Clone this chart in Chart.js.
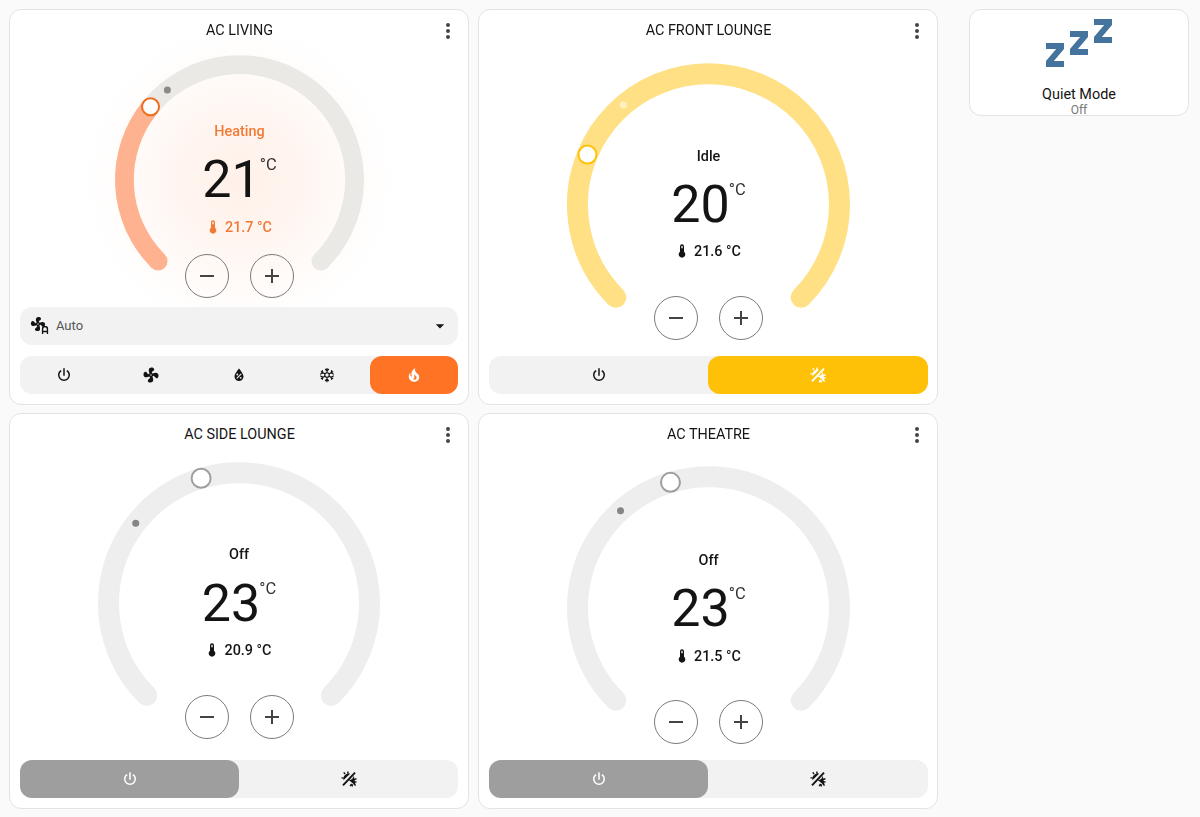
<!DOCTYPE html>
<html>
<head>
<meta charset="utf-8">
<title>Climate</title>
<script src="https://cdn.jsdelivr.net/npm/chart.js@4"></script>
<style>
  html, body { margin: 0; padding: 0; background: #fafafa; }
  body { position: relative; width: 1200px; height: 817px; overflow: hidden; font-family: Roboto, sans-serif; color: #141414; }
  .abs { position: absolute; }
  .card { position: absolute; box-sizing: border-box; background: #fff; border: 1px solid #e3e3e3; border-radius: 12px; }
  .label { position: absolute; transform: translate(-50%, -50%); white-space: nowrap; font-size: 14.4px; line-height: 18px; }
  .bar { position: absolute; background: #f2f2f2; border-radius: 12px; }
  .icon { position: absolute; transform: translate(-50%, -50%); display: block; }
  .round { position: absolute; box-sizing: border-box; width: 44px; height: 44px; border: 1px solid #7a7a7a; border-radius: 50%; transform: translate(-50%, -50%); }
  .temp { position: absolute; transform: translate(-50%, -50%); display: flex; align-items: flex-start; line-height: 57px; }
  .temp b { font-weight: 400; font-size: 52px; }
  .temp span { font-size: 16.5px; line-height: 16px; margin: 6px 0 0 -1px; color: #333; }
  canvas { position: absolute; }
</style>
</head>
<body>
<script>
// Gauge data
const cardTitles = ['AC LIVING', 'AC FRONT LOUNGE', 'AC SIDE LOUNGE', 'AC THEATRE'];
const stateLabels = ['Heating', 'Idle', 'Off', 'Off'];
const setTemps = [21, 20, 23, 23];
const currentTemps = [21.7, 21.6, 20.9, 21.5];
const tempMin = 16;
const tempMax = 32;
const tempUnit = '°C';

// Where things go on the page
const cardBoxes = [[9, 9, 460, 396], [478, 9, 460, 396], [9, 413, 460, 396], [478, 413, 460, 396]];
const gaugeBoxes = [
  { cx: 239.5, cy: 179.5, r: 124.5, w: 18.8, handle: 8.5 },
  { cx: 708.5, cy: 204, r: 141.5, w: 21, handle: 9 },
  { cx: 239, cy: 602.5, r: 141, w: 21, handle: 9.5 },
  { cx: 708.5, cy: 607.5, r: 141.5, w: 21, handle: 9.5 }
];
const textRows = [
  { title: 31, state: 132, temp: 179, now: 228, buttons: 276 },
  { title: 31, state: 156.5, temp: 203.5, now: 252, buttons: 318 },
  { title: 435, state: 555, temp: 603, now: 651, buttons: 717 },
  { title: 435, state: 561, temp: 608, now: 657, buttons: 722 }
];
const colors = [
  { on: '#ffb28f', off: '#ebe9e6', edge: '#ee6c1e', dot: '#8a8a88', text: '#f27a37' },
  { on: '#ffe084', off: '#ffe084', edge: '#ffc107', dot: '#fff0c4', text: '#141414' },
  { on: '#eeeeee', off: '#eeeeee', edge: '#9e9e9e', dot: '#858585', text: '#141414' },
  { on: '#eeeeee', off: '#eeeeee', edge: '#9e9e9e', dot: '#858585', text: '#141414' }
];

// Icons (24 x 24 paths)
const ICONS = {
  power: 'M16.56,5.44L15.11,6.89C16.84,7.94 18,9.83 18,12A6,6 0 0,1 12,18A6,6 0 0,1 6,12C6,9.83 7.16,7.94 8.88,6.88L7.44,5.44C5.36,6.88 4,9.28 4,12A8,8 0 0,0 12,20A8,8 0 0,0 20,12C20,9.28 18.64,6.88 16.56,5.44M13,3H11V13H13',
  fan: 'M12,11A1,1 0 0,0 11,12A1,1 0 0,0 12,13A1,1 0 0,0 13,12A1,1 0 0,0 12,11M12.5,2C17,2 17.11,5.57 14.75,6.75C13.76,7.24 13.32,8.29 13.13,9.22C13.61,9.42 14.03,9.73 14.35,10.13C18.05,8.13 22.03,8.92 22.03,12.5C22.03,17 18.46,17.1 17.28,14.73C16.78,13.74 15.72,13.3 14.79,13.11C14.59,13.59 14.28,14 13.88,14.34C15.87,18.03 15.08,22 11.5,22C7,22 6.91,18.42 9.27,17.24C10.25,16.75 10.69,15.71 10.89,14.79C10.4,14.59 9.97,14.27 9.65,13.87C5.96,15.85 2,15.07 2,11.5C2,7 5.56,6.89 6.74,9.26C7.24,10.25 8.29,10.68 9.22,10.87C9.41,10.39 9.73,9.97 10.14,9.65C8.15,5.96 8.94,2 12.5,2Z',
  drop: 'M12,3.25C12,3.25 6,10 6,14C6,17.32 8.69,20 12,20A6,6 0 0,0 18,14C18,10 12,3.25 12,3.25M14.47,9.97L15.53,11.03L9.53,17.03L8.47,15.97M9.75,10A1.25,1.25 0 0,1 11,11.25A1.25,1.25 0 0,1 9.75,12.5A1.25,1.25 0 0,1 8.5,11.25A1.25,1.25 0 0,1 9.75,10M14.25,14.5A1.25,1.25 0 0,1 15.5,15.75A1.25,1.25 0 0,1 14.25,17A1.25,1.25 0 0,1 13,15.75A1.25,1.25 0 0,1 14.25,14.5Z',
  fire: 'M17.66 11.2C17.43 10.9 17.15 10.64 16.89 10.38C16.22 9.78 15.46 9.35 14.82 8.72C13.33 7.26 13 4.85 13.95 3C13 3.23 12.17 3.75 11.46 4.32C8.87 6.4 7.85 10.07 9.07 13.22C9.11 13.32 9.15 13.42 9.15 13.55C9.15 13.77 9 13.97 8.8 14.05C8.57 14.15 8.33 14.09 8.14 13.93C8.08 13.88 8.04 13.83 8 13.76C6.87 12.33 6.69 10.28 7.45 8.64C5.78 10 4.87 12.3 5 14.47C5.06 14.97 5.12 15.47 5.29 15.97C5.43 16.57 5.7 17.17 6 17.7C7.08 19.43 8.95 20.67 10.96 20.92C13.1 21.19 15.39 20.8 17.03 19.32C18.86 17.66 19.5 15 18.56 12.72L18.43 12.46C18.22 12 17.66 11.2 17.66 11.2M14.5 17.5C14.22 17.74 13.76 18 13.4 18.1C12.28 18.5 11.16 17.94 10.5 17.28C11.69 17 12.4 16.12 12.61 15.23C12.78 14.43 12.46 13.77 12.33 13C12.21 12.26 12.23 11.63 12.5 10.94C12.69 11.32 12.89 11.7 13.13 12C13.9 13 15.11 13.44 15.37 14.8C15.41 14.94 15.43 15.08 15.43 15.23C15.46 16.05 15.1 16.95 14.5 17.5H14.5Z',
  thermo: 'M15 13V5A3 3 0 0 0 9 5V13A5 5 0 1 0 15 13M12 4A1 1 0 0 1 13 5V8H11V5A1 1 0 0 1 12 4Z',
  dots: 'M12,16A2,2 0 0,1 14,18A2,2 0 0,1 12,20A2,2 0 0,1 10,18A2,2 0 0,1 12,16M12,10A2,2 0 0,1 14,12A2,2 0 0,1 12,14A2,2 0 0,1 10,12A2,2 0 0,1 12,10M12,4A2,2 0 0,1 14,6A2,2 0 0,1 12,8A2,2 0 0,1 10,6A2,2 0 0,1 12,4Z',
  minus: 'M19,13H5V11H19V13Z',
  plus: 'M19,13H13V19H11V13H5V11H11V5H13V11H19V13Z',
  caret: 'M7,10L12,15L17,10H7Z',
  sleep: 'M23,12H17V10L20.39,6H17V4H23V6L19.62,10H23V12M15,16H9V14L12.39,10H9V8H15V10L11.62,14H15V16M7,20H1V18L4.39,14H1V12H7V14L3.62,18H7V20Z'
};
// these two are stroked by hand, close enough at this size
const SNOW = '<path d="M12 2.5V21.5M3.8 7.25L20.2 16.75M20.2 7.25L3.8 16.75M9.5 4L12 6.5L14.5 4M9.5 20L12 17.5L14.5 20M3 11L6.5 9L5.6 5.6M21 11L17.5 9L18.4 5.6M3 13L6.5 15L5.6 18.4M21 13L17.5 15L18.4 18.4" fill="none" stroke="COL" stroke-width="1.5"/><circle cx="12" cy="12" r="3" fill="#f2f2f2" stroke="COL" stroke-width="1.5"/>';
const SUNSNOW = '<path d="M20 3.5L4 20.5" fill="none" stroke="COL" stroke-width="2.6"/><path d="M11.5 5.5A6 6 0 0 0 5.5 11.5ZM10.5 2V4.8M5 3.2L6.8 5.4M2 10.5H4.6M14 14A5 5 0 0 0 18 11L19.5 18.5ZM13.5 21.5L15.5 18.5M18.5 13L22 11.5M22 16L19 15.5M16.5 22L16 18.8M20.8 20.8L18.5 18.5" fill="COL" stroke="COL" stroke-width="1.9"/>';

function el(cls, css, html) {
  const d = document.createElement('div');
  d.className = cls;
  d.style.cssText = css;
  if (html !== undefined) d.innerHTML = html;
  document.body.appendChild(d);
  return d;
}

function label(text, x, y, css) {
  const d = el('label', 'left:' + x + 'px;top:' + y + 'px;' + (css || ''));
  d.textContent = text;
  return d;
}

function icon(name, x, y, size, color) {
  const body = name === 'snow' ? SNOW.replace(/COL/g, color)
    : name === 'sunsnow' ? SUNSNOW.replace(/COL/g, color)
    : '<path d="' + ICONS[name] + '" fill="' + color + '"/>';
  el('abs', 'left:0;top:0;', '<svg class="icon" style="left:' + x + 'px;top:' + y + 'px" width="' + size + '" height="' + size + '" viewBox="0 0 24 24">' + body + '</svg>');
}

function modeBar(x, y, w, h, names, active, activeColor) {
  el('bar', 'left:' + x + 'px;top:' + y + 'px;width:' + w + 'px;height:' + h + 'px;');
  const cell = w / names.length;
  el('bar', 'background:' + activeColor + ';left:' + (x + cell * active) + 'px;top:' + y + 'px;width:' + cell + 'px;height:' + h + 'px;');
  names.forEach((n, i) => icon(n, x + cell * (i + 0.5), y + h / 2, 18, i === active ? '#fff' : '#141414'));
}

// Rounded ends, set point handle and current temperature dot, placed from the arcs the library computed
const gaugeMarks = {
  id: 'gaugeMarks',
  afterDatasetsDraw(chart, args, opts) {
    const ctx = chart.ctx;
    const [setArc, restArc] = chart.getDatasetMeta(0).data;
    const nowArc = chart.getDatasetMeta(1).data[0];
    const mid = (setArc.innerRadius + setArc.outerRadius) / 2;
    const band = setArc.outerRadius - setArc.innerRadius;
    const at = (a) => [setArc.x + mid * Math.cos(a), setArc.y + mid * Math.sin(a)];
    const disc = (p, r, fill, stroke) => {
      ctx.beginPath();
      ctx.arc(p[0], p[1], r, 0, Math.PI * 2);
      ctx.fillStyle = fill;
      ctx.fill();
      if (stroke) {
        ctx.lineWidth = 2;
        ctx.strokeStyle = stroke;
        ctx.stroke();
      }
    };
    ctx.save();
    disc(at(setArc.startAngle), band / 2, opts.on);
    disc(at(restArc.endAngle), band / 2, opts.off);
    disc(at(nowArc.endAngle), 3.5, opts.dot);
    disc(at(setArc.endAngle), opts.handle, '#fff', opts.edge);
    ctx.restore();
  }
};

function drawGauge(i) {
  const g = gaugeBoxes[i];
  const c = colors[i];
  const pad = 16;
  const canvas = document.createElement('canvas');
  const w = g.r * 2 + pad * 2;
  const h = Math.ceil(g.r * 2 * 0.8536 + pad * 2);
  canvas.width = w;
  canvas.height = h;
  canvas.style.cssText = 'left:' + (g.cx - g.r - pad) + 'px;top:' + (g.cy - g.r - pad) + 'px;width:' + w + 'px;height:' + h + 'px;';
  document.body.appendChild(canvas);
  new Chart(canvas.getContext('2d'), {
    type: 'doughnut',
    data: {
      labels: ['to set point', 'rest'],
      datasets: [
        { data: [setTemps[i] - tempMin, tempMax - setTemps[i]], backgroundColor: [c.on, c.off], borderWidth: 0 },
        { data: [currentTemps[i] - tempMin, tempMax - currentTemps[i]], backgroundColor: 'transparent', borderWidth: 0, weight: 0 }
      ]
    },
    options: {
      responsive: false,
      animation: false,
      rotation: -135,
      circumference: 270,
      cutout: ((g.r - g.w) / g.r * 100) + '%',
      layout: { padding: pad },
      events: [],
      plugins: {
        legend: { display: false },
        tooltip: { enabled: false },
        gaugeMarks: { on: c.on, off: c.off, dot: c.dot, edge: c.edge, handle: g.handle }
      }
    },
    plugins: [gaugeMarks]
  });
}

// Page
cardTitles.forEach((title, i) => {
  const b = cardBoxes[i];
  const g = gaugeBoxes[i];
  const t = textRows[i];
  const c = colors[i];
  el('card', 'left:' + b[0] + 'px;top:' + b[1] + 'px;width:' + b[2] + 'px;height:' + b[3] + 'px;');
  if (i === 0) {
    // soft glow behind the heating gauge
    el('abs', 'left:' + (g.cx - 160) + 'px;top:' + (g.cy - 160) + 'px;width:320px;height:320px;background:radial-gradient(circle closest-side, rgba(255,115,40,0.10) 0%, rgba(255,115,40,0.075) 35%, rgba(255,115,40,0.03) 65%, rgba(255,115,40,0.008) 85%, rgba(255,115,40,0) 100%);');
  }
  drawGauge(i);
  label(title, b[0] + b[2] / 2 + 0.5, t.title);
  icon('dots', b[0] + 438.5, t.title, 24, '#444');
  label(stateLabels[i], g.cx, t.state, 'font-weight:500;color:' + c.text + ';');
  el('temp', 'left:' + g.cx + 'px;top:' + t.temp + 'px;', '<b>' + setTemps[i] + '</b><span>' + tempUnit + '</span>');
  label(currentTemps[i].toFixed(1) + ' ' + tempUnit, g.cx + 9, t.now, 'font-weight:500;color:' + c.text + ';');
  icon('thermo', g.cx - 27, t.now - 1, 16, c.text);
  [-32.5, 32.5].forEach((dx, k) => {
    el('round', 'left:' + (b[0] + 230 + dx) + 'px;top:' + t.buttons + 'px;');
    icon(k ? 'plus' : 'minus', b[0] + 230 + dx, t.buttons, 24, '#444');
  });
});

// Fan select on the first card
el('bar', 'left:20px;top:307px;width:438px;height:37.5px;');
icon('fan', 38, 324, 17, '#141414');
el('abs', 'left:0;top:0;', '<svg class="icon" style="left:45px;top:330px" width="7" height="8" viewBox="0 0 7 8"><path d="M1 8L1 3A2.5 2.5 0 0 1 6 3L6 8M1 5.5H6" fill="none" stroke="#141414" stroke-width="1.5"/></svg>');
label('Auto', 69.5, 326, 'font-size:13px;color:#555;');
icon('caret', 440, 326, 20, '#141414');

modeBar(20, 356, 438, 37.5, ['power', 'fan', 'drop', 'snow', 'fire'], 4, '#ff7324');
modeBar(489, 356, 438.5, 37.5, ['power', 'sunsnow'], 1, '#ffc107');
modeBar(20, 760, 438, 38, ['power', 'sunsnow'], 0, '#9e9e9e');
modeBar(489, 760, 438.5, 38, ['power', 'sunsnow'], 0, '#9e9e9e');

// Quiet mode tile
el('card', 'left:969px;top:9px;width:220px;height:107px;');
icon('sleep', 1079, 43, 72, '#44739e');
label('Quiet Mode', 1079, 95);
label('Off', 1079, 110, 'font-size:12px;line-height:12px;color:#777;');
</script>
</body>
</html>
